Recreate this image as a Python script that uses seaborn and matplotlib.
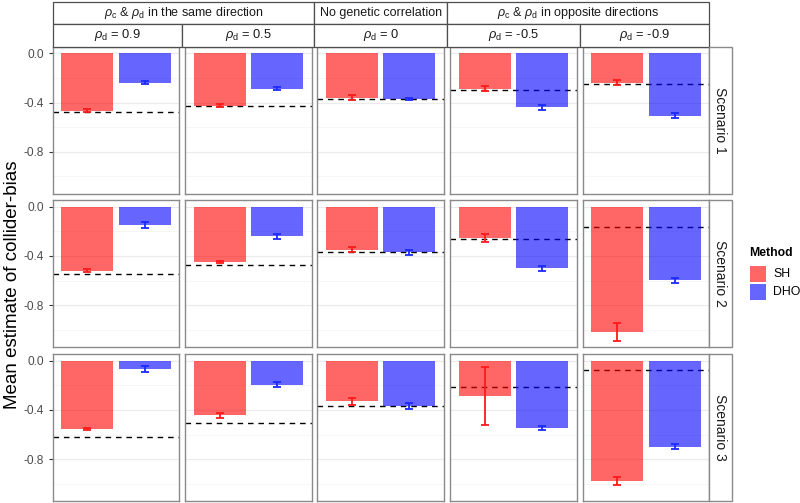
import numpy as np
import pandas as pd
import matplotlib
matplotlib.use("Agg")
import matplotlib.pyplot as plt
from matplotlib.patches import Rectangle
import seaborn as sns

# ---------------- data ----------------
methods = ["SH", "DHO"]
scenarios = ["Scenario 1", "Scenario 2", "Scenario 3"]
rho_d_labels = ["0.9", "0.5", "0", "-0.5", "-0.9"]
group_labels = [r"$\rho_\mathrm{c}$ & $\rho_\mathrm{d}$ in the same direction",
                "No genetic correlation",
                r"$\rho_\mathrm{c}$ & $\rho_\mathrm{d}$ in opposite directions"]
group_spans = [(0, 1), (2, 2), (3, 4)]

sh_mean = [[-0.465, -0.425, -0.362, -0.288, -0.237],
           [-0.519, -0.449, -0.350, -0.252, -1.016],
           [-0.558, -0.445, -0.330, -0.288, -0.977]]
sh_err = [[0.012, 0.010, 0.020, 0.020, 0.020],
          [0.010, 0.010, 0.022, 0.033, 0.072],
          [0.008, 0.023, 0.030, 0.238, 0.030]]
dho_mean = [[-0.237, -0.288, -0.369, -0.438, -0.506],
            [-0.148, -0.239, -0.371, -0.500, -0.599],
            [-0.069, -0.195, -0.367, -0.547, -0.698]]
dho_err = [[0.010, 0.012, 0.010, 0.020, 0.020],
           [0.023, 0.020, 0.020, 0.020, 0.020],
           [0.025, 0.020, 0.022, 0.020, 0.023]]
true_bias = [[-0.476, -0.430, -0.369, -0.299, -0.248],
             [-0.548, -0.470, -0.371, -0.263, -0.169],
             [-0.620, -0.507, -0.367, -0.216, -0.079]]

# ---------------- style ----------------
sns.set_style("white")
plt.rcParams["font.family"] = ["Liberation Sans", "DejaVu Sans"]
plt.rcParams["mathtext.fontset"] = "custom"
plt.rcParams["mathtext.rm"] = "Liberation Sans"
plt.rcParams["mathtext.it"] = "Liberation Sans:italic"

W, H = 800, 503
fig = plt.figure(figsize=(W / 100, H / 100), dpi=100)

def fx(px):
    return px / W

def fy(py):
    return 1 - py / H

col_left = [52.7, 185.3, 317.3, 450.3, 582.7]
pw = 126.5
row_top = [46.7, 200.0, 354.0]
ph = 147.3

bar_colors = {"SH": "#FF0000", "DHO": "#0000FF"}
err_colors = {"SH": "#FF1A1A", "DHO": "#1A2AFF"}
border_col = "#8a8a8a"

lows = [m - e for rm, re in zip(sh_mean + dho_mean, sh_err + dho_err) for m, e in zip(rm, re)]
lo, hi = min(lows + [0]), 0.0
R = hi - lo
ylim = (lo - 0.05 * R, hi + 0.05 * R)

for r in range(3):
    for c in range(5):
        ax = fig.add_axes([fx(col_left[c]), fy(row_top[r] + ph), pw / W, ph / H])
        df = pd.DataFrame({"Method": methods,
                           "value": [sh_mean[r][c], dho_mean[r][c]]})
        ax.axhline(true_bias[r][c], color="black", lw=1.0, ls=(0, (4, 3.5)), zorder=2)
        sns.barplot(data=df, x="Method", y="value", hue="Method", order=methods,
                    hue_order=methods, palette=bar_colors, alpha=0.6, width=0.9,
                    saturation=1, errorbar=None, legend=False, ax=ax, zorder=3,
                    linewidth=0)
        for i, m in enumerate(methods):
            mean = sh_mean[r][c] if m == "SH" else dho_mean[r][c]
            err = sh_err[r][c] if m == "SH" else dho_err[r][c]
            ax.errorbar([i], [mean], yerr=[err], fmt="none", ecolor=err_colors[m],
                        elinewidth=1.3, capsize=2.6, capthick=1.3, zorder=4)
        ax.set_xlim(-0.6, 1.6)
        ax.set_ylim(*ylim)
        ax.set_yticks([0.0, -0.4, -0.8])
        ax.set_yticks([-0.2, -0.6, -1.0], minor=True)
        ax.yaxis.grid(True, which="major", color="#ebebeb", lw=0.8, zorder=0)
        ax.yaxis.grid(True, which="minor", color="#f3f3f3", lw=0.5, zorder=0)
        ax.xaxis.grid(False)
        ax.set_axisbelow(True)
        ax.set_xlabel("")
        ax.set_ylabel("")
        ax.set_xticks([])
        for s in ax.spines.values():
            s.set_color(border_col)
            s.set_linewidth(1.0)
        if c == 0:
            ax.set_yticklabels(["0.0", "-0.4", "-0.8"])
            ax.tick_params(axis="y", which="major", length=3.0, width=0.8,
                           color="#333333", labelcolor="#4d4d4d", labelsize=8.6, pad=3,
                           left=True)
            ax.tick_params(axis="y", which="minor", length=0)
        else:
            ax.tick_params(axis="y", which="both", length=0, labelleft=False)

# ---------------- column strips (nested) ----------------
edges = [52.7, 182.0, 314.3, 447.3, 579.7, 709.2]
strip_col = "#4d4d4d"
y0, y1, y2 = 2.0, 23.7, 46.7
for gi, (a, b) in enumerate(group_spans):
    x0, x1 = edges[a], edges[b + 1]
    fig.add_artist(Rectangle((fx(x0), fy(y1)), (x1 - x0) / W, (y1 - y0) / H,
                             transform=fig.transFigure, facecolor="white",
                             edgecolor=strip_col, lw=0.9))
    fig.text(fx((x0 + x1) / 2), fy((y0 + y1) / 2), group_labels[gi], ha="center",
             va="center", fontsize=9.0, color="#1a1a1a")
for c in range(5):
    x0, x1 = edges[c], edges[c + 1]
    fig.add_artist(Rectangle((fx(x0), fy(y2)), (x1 - x0) / W, (y2 - y1) / H,
                             transform=fig.transFigure, facecolor="white",
                             edgecolor=strip_col, lw=0.9))
    fig.text(fx((x0 + x1) / 2), fy((y1 + y2) / 2),
             r"$\rho_\mathrm{d}$ = " + rho_d_labels[c], ha="center", va="center",
             fontsize=9.3, color="#1a1a1a")

# ---------------- row strips ----------------
sx0, sx1 = 709.3, 731.7
for r in range(3):
    fig.add_artist(Rectangle((fx(sx0), fy(row_top[r] + ph)), (sx1 - sx0) / W, ph / H,
                             transform=fig.transFigure, facecolor="white",
                             edgecolor=border_col, lw=1.0))
    fig.text(fx((sx0 + sx1) / 2), fy(row_top[r] + ph / 2), scenarios[r],
             rotation=-90, ha="center", va="center", fontsize=10, color="#1a1a1a")

# ---------------- y label ----------------
fig.text(fx(13), fy(285), "Mean estimate of collider-bias", rotation=90,
         ha="center", va="center", fontsize=13.5, color="black")

# ---------------- legend ----------------
fig.text(fx(749), fy(253), "Method", ha="left", va="center", fontsize=8.8,
         fontweight="bold", color="black")
for i, m in enumerate(methods):
    top = 266 + i * 18
    fig.add_artist(Rectangle((fx(750), fy(top + 16)), 16 / W, 16 / H,
                             transform=fig.transFigure, facecolor=bar_colors[m],
                             alpha=0.6, edgecolor="none"))
    fig.text(fx(773), fy(top + 8), m, ha="left", va="center", fontsize=8.8,
             color="black")

fig.savefig("out.png", dpi=100)
